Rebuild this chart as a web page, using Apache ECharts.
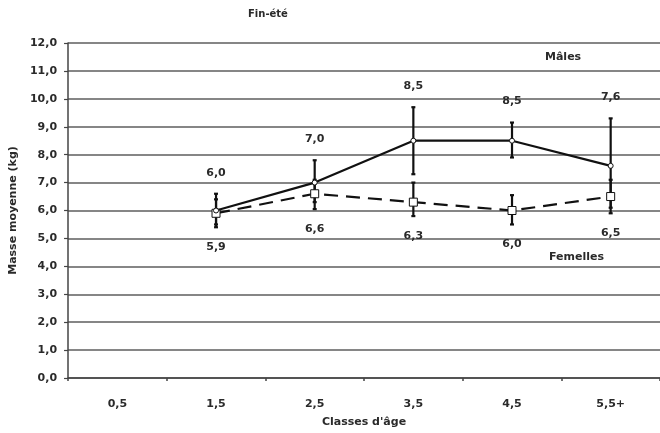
<!DOCTYPE html>
<html><head><meta charset="utf-8">
<script src="https://cdn.jsdelivr.net/npm/echarts@6/dist/echarts.min.js"></script>
<style>html,body{margin:0;padding:0;background:#fff}#c{width:660px;height:433px}</style>
</head><body><div id="c"></div>
<script>
const categories = ['0,5', '1,5', '2,5', '3,5', '4,5', '5,5+'];
const maleMean = [null, 6.0, 7.0, 8.5, 8.5, 7.6];
const maleLow = [null, 5.5, 6.3, 7.3, 7.9, 6.1];
const maleHigh = [null, 6.6, 7.8, 9.7, 9.15, 9.3];
const femaleMean = [null, 5.9, 6.6, 6.3, 6.0, 6.5];
const femaleLow = [null, 5.4, 6.05, 5.8, 5.5, 5.9];
const femaleHigh = [null, 6.4, 7.1, 7.0, 6.55, 7.1];

const FONT = '"DejaVu Sans", sans-serif';
const TXT = '#2a2a2a';
const fmt = v => v.toFixed(1).replace('.', ',');

function errData(low, high, mean) {
  const out = [];
  for (let i = 0; i < categories.length; i++) {
    if (mean[i] == null) continue;
    out.push([i, low[i], high[i], mean[i]]);
  }
  return out;
}

function errSeries(data, above) {
  return {
    type: 'custom', z: 1, silent: true,
    renderItem: (params, api) => {
      const i = api.value(0);
      const pLo = api.coord([i, api.value(1)]);
      const pHi = api.coord([i, api.value(2)]);
      const x = pLo[0];
      const st = { stroke: '#111', lineWidth: 2.2 };
      return {
        type: 'group', children: [
          { type: 'line', shape: { x1: x, y1: pLo[1], x2: x, y2: pHi[1] }, style: st },
          { type: 'line', shape: { x1: x - 2, y1: pLo[1], x2: x + 2, y2: pLo[1] }, style: st },
          { type: 'line', shape: { x1: x - 2, y1: pHi[1], x2: x + 2, y2: pHi[1] }, style: st },
          { type: 'text', x: x, y: above ? pHi[1] - 21 : pLo[1] + 20,
            style: { text: fmt(api.value(3)), fill: TXT, font: 'bold 11px ' + FONT,
                     align: 'center', verticalAlign: 'middle' } }
        ]
      };
    },
    data: data
  };
}

const chart = echarts.init(document.getElementById('c'), null, { renderer: 'canvas' });
chart.setOption({
  backgroundColor: '#fff',
  animation: false,
  grid: { left: 67, top: 43, width: 598, height: 340 },
  graphic: [
    { type: 'text', left: 248, top: 9, style: { text: 'Fin-été', fill: TXT, font: 'bold 10px ' + FONT } },
    { type: 'text', left: 545, top: 52, style: { text: 'Mâles', fill: TXT, font: 'bold 11px ' + FONT } },
    { type: 'text', left: 549, top: 252, style: { text: 'Femelles', fill: TXT, font: 'bold 11px ' + FONT } }
  ],
  xAxis: {
    type: 'category', data: categories, boundaryGap: true,
    name: "Classes d'âge", nameLocation: 'middle', nameGap: 39,
    nameTextStyle: { color: TXT, fontFamily: FONT, fontWeight: 'bold', fontSize: 11 },
    axisLine: { lineStyle: { color: '#444', width: 1.5 } },
    axisTick: { show: true, length: 3, lineStyle: { color: '#444', width: 1.5 } },
    axisLabel: { color: TXT, fontFamily: FONT, fontWeight: 'bold', fontSize: 11, margin: 21 }
  },
  yAxis: {
    type: 'value', min: 0, max: 12, interval: 1,
    name: 'Masse moyenne (kg)', nameLocation: 'middle', nameGap: 46, nameRotate: 90,
    nameTextStyle: { color: TXT, fontFamily: FONT, fontWeight: 'bold', fontSize: 11 },
    axisLine: { show: true, lineStyle: { color: '#444', width: 1.5 } },
    axisTick: { show: true, length: 4, lineStyle: { color: '#444', width: 1.2 } },
    axisLabel: { color: TXT, fontFamily: FONT, fontWeight: 'bold', fontSize: 11, margin: 11,
                 formatter: v => fmt(v) },
    splitLine: { show: true, lineStyle: { color: '#5e5e5e', width: 1.5 } }
  },
  series: [
    errSeries(errData(maleLow, maleHigh, maleMean), true),
    errSeries(errData(femaleLow, femaleHigh, femaleMean), false),
    {
      type: 'line', name: 'Mâles', z: 3, data: maleMean.map(v => v == null ? '-' : v),
      connectNulls: false, showSymbol: true, symbol: 'circle', symbolSize: 5,
      lineStyle: { color: '#111', width: 2.2 },
      itemStyle: { color: '#fff', borderColor: '#111', borderWidth: 1 }
    },
    {
      type: 'line', name: 'Femelles', z: 2, data: femaleMean.map(v => v == null ? '-' : v),
      showSymbol: true, symbol: 'rect', symbolSize: 8,
      lineStyle: { color: '#111', width: 2.2, type: [14, 8] },
      itemStyle: { color: '#fff', borderColor: '#111', borderWidth: 1 }
    }
  ]
});
</script></body></html>
